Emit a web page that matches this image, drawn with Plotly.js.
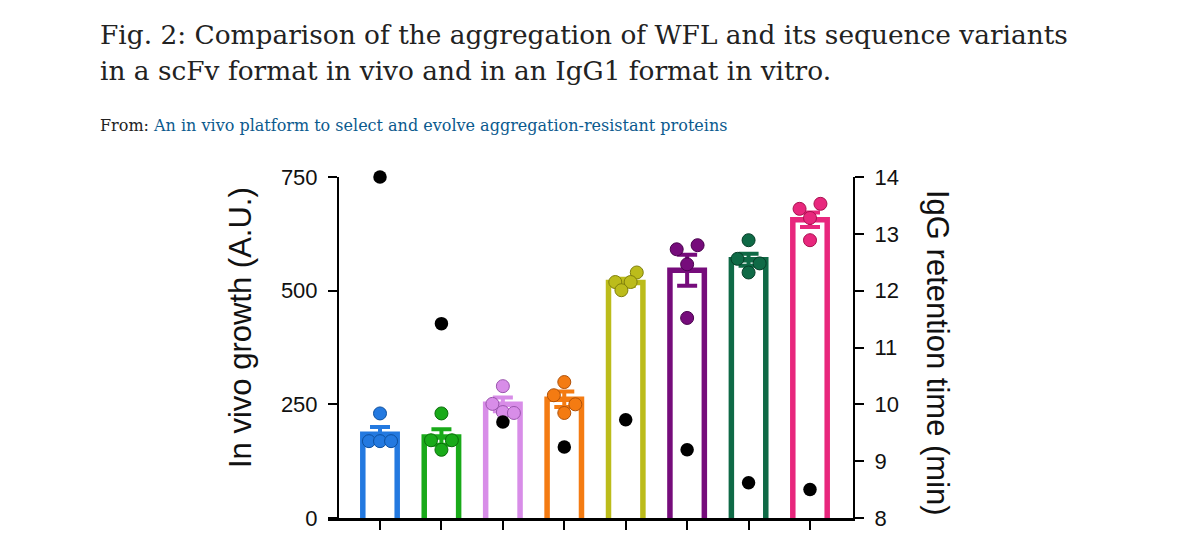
<!DOCTYPE html>
<html>
<head>
<meta charset="utf-8">
<script src="https://cdn.plot.ly/plotly-3.0.1.min.js"></script>
<style>
html,body{margin:0;padding:0;background:#fff;}
#chart{width:1200px;height:536px;}
</style>
</head>
<body>
<div id="chart"></div>
<script>
// ---- data ----
const categories = ['G1', 'G2', 'G3', 'G4', 'G5', 'G6', 'G7', 'G8'];
const barColors = ['#2379e0', '#19aa19', '#d88de8', '#f47b12', '#bcbc1b', '#760c7b', '#0f6a46', '#e8277d'];
const dotEdge   = ['#0d4f9e', '#0b6e0b', '#9a55ad', '#b0520a', '#80800c', '#4a034e', '#073f29', '#a8114f'];
// In vivo growth (left axis): bar means and SEM
const growthMean = [184, 178, 250, 261, 518, 545, 568, 656];
const growthSEM  = [16, 17, 15, 17, 8, 34, 13, 16];
// Individual replicate values (left axis) per group
const growthReps = [
  [230, 169, 169, 169],
  [230, 171, 171, 150],
  [290, 251, 233, 231],
  [299, 270, 250, 231],
  [519, 540, 519, 501],
  [591, 600, 558, 440],
  [611, 570, 560, 540],
  [680, 691, 660, 611]
];
// horizontal jitter of replicate dots (category units)
const repJitter = [
  [0, -0.18, 0, 0.18],
  [0, -0.17, 0.17, 0],
  [0, -0.17, 0, 0.18],
  [0, -0.17, 0.18, 0],
  [-0.17, 0.18, 0.08, -0.07],
  [-0.17, 0.17, 0, 0],
  [0, -0.18, 0.18, 0],
  [-0.17, 0.17, 0, 0]
];
// IgG retention time (right axis), black dots
const retention = [14.0, 11.42, 9.69, 9.25, 9.73, 9.20, 8.62, 8.50];

const leftTicks = [0, 250, 500, 750];
const rightTicks = [8, 9, 10, 11, 12, 13, 14];

// ---- style ----
const barStroke = 5.5;
const plotH = 341, leftRange = [0, 750];
// push bar bottoms just below the axis so the bottom outline is clipped (open-bottom look)
const baseShift = (barStroke / 2 + 0.5) * (leftRange[1] - leftRange[0]) / plotH;

// ---- traces ----
const traces = [];
categories.forEach((c, i) => {
  traces.push({
    type: 'bar', x: [i], y: [growthMean[i] + baseShift], base: -baseShift, width: 0.56,
    marker: {color: '#ffffff', line: {color: barColors[i], width: barStroke}},
    error_y: {type: 'data', array: [growthSEM[i]], visible: true, color: barColors[i], thickness: 4, width: 10},
    showlegend: false, hoverinfo: 'none', name: c
  });
});
categories.forEach((c, i) => {
  traces.push({
    type: 'scatter', mode: 'markers',
    x: repJitter[i].map(d => i + d), y: growthReps[i],
    marker: {size: 13, color: barColors[i], line: {color: dotEdge[i], width: 1}},
    cliponaxis: false, showlegend: false, name: c
  });
});
traces.push({
  type: 'scatter', mode: 'markers', x: categories.map((c, i) => i), y: retention,
  yaxis: 'y2', marker: {size: 13.5, color: '#000000'}, cliponaxis: false, showlegend: false,
  name: 'IgG retention time'
});

const axisFont = {family: 'Liberation Sans, Arial, sans-serif', size: 22, color: '#111'};
const titleSerif = 'DejaVu Serif, serif';
const pxX = px => (px - 328) / 525;
const pxY = py => (518 - py) / 341;

const layout = {
  width: 1200, height: 536,
  margin: {l: 328, r: 347, t: 177, b: 18, pad: 0},
  paper_bgcolor: '#ffffff', plot_bgcolor: 'rgba(0,0,0,0)',
  barmode: 'overlay',
  showlegend: false,
  xaxis: {
    range: [-0.8465, 7.70], showgrid: false, zeroline: false,
    showline: true, linecolor: '#000', linewidth: 2.5,
    ticks: 'outside', ticklen: 9, tickwidth: 2, tickcolor: '#000',
    tickvals: categories.map((c, i) => i), ticktext: categories.map(() => ''),
    showticklabels: false, fixedrange: true
  },
  yaxis: {
    range: leftRange, anchor: 'free', position: 10 / 525,
    showgrid: false, zeroline: false,
    showline: true, linecolor: '#000', linewidth: 2,
    ticks: 'outside', ticklen: 9, tickwidth: 2, tickcolor: '#000',
    tickvals: leftTicks, ticktext: leftTicks.map(String),
    tickfont: axisFont, ticklabelstandoff: 6, fixedrange: true
  },
  yaxis2: {
    range: [8, 14], overlaying: 'y', side: 'right', anchor: 'x',
    showgrid: false, zeroline: false,
    showline: true, linecolor: '#000', linewidth: 2,
    ticks: 'outside', ticklen: 9, tickwidth: 2, tickcolor: '#000',
    tickvals: rightTicks, ticktext: rightTicks.map(String),
    tickfont: axisFont, ticklabelstandoff: 6, fixedrange: true
  },
  annotations: [
    {xref: 'paper', yref: 'paper', x: pxX(98), y: pxY(35), xanchor: 'left', yanchor: 'middle',
     text: 'Fig. 2: Comparison of the aggregation of WFL and its sequence variants',
     showarrow: false, font: {family: titleSerif, size: 26.4, color: '#222'}},
    {xref: 'paper', yref: 'paper', x: pxX(98), y: pxY(70), xanchor: 'left', yanchor: 'middle',
     text: 'in a scFv format in vivo and in an IgG1 format in vitro.',
     showarrow: false, font: {family: titleSerif, size: 26.4, color: '#222'}},
    {xref: 'paper', yref: 'paper', x: pxX(98), y: pxY(126), xanchor: 'left', yanchor: 'middle',
     text: 'From: <span style="color:#0b5a8e">An in vivo platform to select and evolve aggregation-resistant proteins</span>',
     showarrow: false, font: {family: titleSerif, size: 16, color: '#222'}},
    {xref: 'paper', yref: 'paper', x: pxX(240), y: pxY(328), xanchor: 'center', yanchor: 'middle',
     text: 'In vivo growth (A.U.)', textangle: -90,
     showarrow: false, font: {family: 'Liberation Sans, Arial, sans-serif', size: 31, color: '#111'}},
    {xref: 'paper', yref: 'paper', x: pxX(938), y: pxY(353), xanchor: 'center', yanchor: 'middle',
     text: 'IgG retention time (min)', textangle: 90,
     showarrow: false, font: {family: 'Liberation Sans, Arial, sans-serif', size: 31, color: '#111'}}
  ]
};

Plotly.newPlot('chart', traces, layout, {displayModeBar: false, staticPlot: true});
</script>
</body>
</html>
